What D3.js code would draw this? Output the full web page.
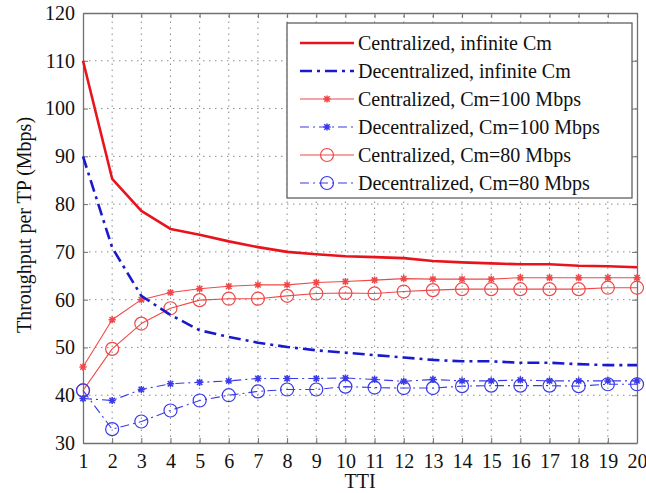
<!DOCTYPE html>
<html>
<head>
<meta charset="utf-8">
<script src="https://cdn.jsdelivr.net/npm/d3@7/dist/d3.min.js"></script>
<style>
  html, body { margin: 0; padding: 0; background: #fff; }
</style>
</head>
<body>
<svg id="chart" width="646" height="493"></svg>
<script>
// TTI index on the x axis
const tti = d3.range(1, 21);

// Throughput per TP (Mbps) for each scheme
const centralizedInf = [110, 85.3, 78.6, 74.8, 73.6, 72.2, 71.0, 70.0, 69.5, 69.1, 68.9, 68.7, 68.1, 67.8, 67.6, 67.4, 67.4, 67.1, 67.0, 66.8];
const decentralizedInf = [90, 70.9, 60.8, 56.8, 53.6, 52.2, 51.0, 50.1, 49.4, 48.9, 48.4, 47.9, 47.4, 47.1, 47.1, 46.8, 46.8, 46.5, 46.3, 46.3];
const centralized100 = [45.9, 55.8, 60.0, 61.5, 62.3, 62.8, 63.1, 63.1, 63.6, 63.8, 64.1, 64.4, 64.3, 64.3, 64.3, 64.6, 64.6, 64.6, 64.6, 64.6];
const decentralized100 = [39.3, 38.9, 41.2, 42.4, 42.7, 43.0, 43.5, 43.5, 43.5, 43.6, 43.3, 42.9, 43.3, 43.0, 43.0, 43.2, 43.0, 43.0, 43.0, 43.0];
const centralized80 = [41.0, 49.7, 55.0, 58.2, 59.9, 60.2, 60.2, 60.8, 61.3, 61.4, 61.3, 61.7, 62.0, 62.2, 62.2, 62.2, 62.2, 62.2, 62.5, 62.5];
const decentralized80 = [41.0, 32.9, 34.5, 36.8, 38.9, 40.0, 40.8, 41.2, 41.2, 41.8, 41.6, 41.5, 41.5, 41.9, 42.0, 42.0, 42.0, 41.9, 42.3, 42.3];

// Axis ticks
const xTicks = d3.range(1, 21);
const yTicks = d3.range(30, 121, 10);

const seriesNames = [
  "Centralized, infinite Cm",
  "Decentralized, infinite Cm",
  "Centralized, Cm=100 Mbps",
  "Decentralized, Cm=100 Mbps",
  "Centralized, Cm=80 Mbps",
  "Decentralized, Cm=80 Mbps"
];

const series = [
  { name: seriesNames[0], values: centralizedInf, color: "#e8141c", width: 2.6, dash: null, marker: null },
  { name: seriesNames[1], values: decentralizedInf, color: "#1a1acc", width: 2.6, dash: "12,5,3,5", marker: null },
  { name: seriesNames[2], values: centralized100, color: "#f04848", width: 1.1, dash: null, marker: "star" },
  { name: seriesNames[3], values: decentralized100, color: "#3a3ae8", width: 1.1, dash: "9,4,2,4", marker: "star" },
  { name: seriesNames[4], values: centralized80, color: "#f04848", width: 1.1, dash: null, marker: "circle" },
  { name: seriesNames[5], values: decentralized80, color: "#3a3ae8", width: 1.1, dash: "9,4,2,4", marker: "circle" }
];

const FONT = "'Liberation Serif'";
const margin = { left: 83, right: 9, top: 13, bottom: 50 };
const W = 646, H = 493;
const svg = d3.select("#chart");

const x = d3.scaleLinear().domain([1, 20]).range([margin.left, W - margin.right]);
const y = d3.scaleLinear().domain([30, 120]).range([H - margin.bottom, margin.top]);

const x0 = x.range()[0], x1 = x.range()[1];
const y0 = y.range()[0], y1 = y.range()[1];

// Dotted grid
const grid = svg.append("g").attr("stroke", "#8a8a8a").attr("stroke-width", 1).attr("stroke-dasharray", "1.5,4.5");
grid.selectAll(".gx").data(xTicks.slice(1, -1)).join("line")
  .attr("x1", d => x(d)).attr("x2", d => x(d)).attr("y1", y0).attr("y2", y1);
grid.selectAll(".gy").data(yTicks.slice(1, -1)).join("line")
  .attr("x1", x0).attr("x2", x1).attr("y1", d => y(d)).attr("y2", d => y(d));

// Axes with inward ticks on all four sides
const tickLen = 5;
const axisColor = "#707070";
const axBottom = svg.append("g").attr("transform", `translate(0,${y0})`)
  .call(d3.axisBottom(x).tickValues(xTicks).tickSizeInner(-tickLen).tickSizeOuter(0).tickPadding(11).tickFormat(d3.format("d")));
const axTop = svg.append("g").attr("transform", `translate(0,${y1})`)
  .call(d3.axisTop(x).tickValues(xTicks).tickSizeInner(-tickLen).tickSizeOuter(0).tickFormat(""));
const axLeft = svg.append("g").attr("transform", `translate(${x0},0)`)
  .call(d3.axisLeft(y).tickValues(yTicks).tickSizeInner(-tickLen).tickSizeOuter(0).tickPadding(8).tickFormat(d3.format("d")));
const axRight = svg.append("g").attr("transform", `translate(${x1},0)`)
  .call(d3.axisRight(y).tickValues(yTicks).tickSizeInner(-tickLen).tickSizeOuter(0).tickFormat(""));

[axBottom, axTop, axLeft, axRight].forEach(g => {
  g.attr("font-family", null);
  g.select(".domain").attr("stroke", axisColor).attr("stroke-width", 1.3);
  g.selectAll(".tick line").attr("stroke", axisColor);
  g.selectAll("text").style("font-family", FONT).style("font-size", "20px").attr("fill", "#111");
});

// Axis titles
svg.append("text").attr("x", (x0 + x1) / 2).attr("y", 488)
  .attr("text-anchor", "middle").attr("fill", "#111")
  .style("font-family", FONT).style("font-size", "20px").text("TTI");
svg.append("text").attr("transform", `translate(31,${(y0 + y1) / 2 - 3}) rotate(-90)`)
  .attr("text-anchor", "middle").attr("fill", "#111")
  .style("font-family", FONT).style("font-size", "20px").text("Throughput per TP (Mbps)");

// Marker drawing helpers
function drawMarker(g, kind, cx, cy, color, scale) {
  if (kind === "circle") {
    g.append("circle").attr("cx", cx).attr("cy", cy).attr("r", 6.5 * scale)
      .attr("fill", "none").attr("stroke", color).attr("stroke-width", 1.2);
  } else if (kind === "star") {
    const r = 3.6 * scale;
    const p = d3.path();
    p.moveTo(cx - r, cy); p.lineTo(cx + r, cy);
    p.moveTo(cx, cy - r); p.lineTo(cx, cy + r);
    const d = r * 0.75;
    p.moveTo(cx - d, cy - d); p.lineTo(cx + d, cy + d);
    p.moveTo(cx - d, cy + d); p.lineTo(cx + d, cy - d);
    g.append("path").attr("d", p.toString()).attr("stroke", color).attr("stroke-width", 1.5).attr("fill", "none");
  }
}

const line = d3.line().x((d, i) => x(tti[i])).y(d => y(d));

// Draw thin series first, thick ones on top
const order = [2, 3, 4, 5, 1, 0];
order.forEach(k => {
  const s = series[k];
  const g = svg.append("g");
  g.append("path").datum(s.values).attr("d", line)
    .attr("fill", "none").attr("stroke", s.color).attr("stroke-width", s.width)
    .attr("stroke-dasharray", s.dash).attr("stroke-linejoin", "round");
  if (s.marker) {
    s.values.forEach((v, i) => drawMarker(g, s.marker, x(tti[i]), y(v), s.color, 1));
  }
});

// Legend
const lg = svg.append("g");
const lx = 287, ly = 23, lw = 345, lh = 175;
lg.append("rect").attr("x", lx).attr("y", ly).attr("width", lw).attr("height", lh)
  .attr("fill", "#fff").attr("stroke", "#606060").attr("stroke-width", 1.3);
series.forEach((s, i) => {
  const yy = ly + 20 + i * 28;
  lg.append("line").attr("x1", 300).attr("x2", 354).attr("y1", yy).attr("y2", yy)
    .attr("stroke", s.color).attr("stroke-width", s.width).attr("stroke-dasharray", s.dash);
  if (s.marker) drawMarker(lg, s.marker, 327, yy, s.color, 1);
  lg.append("text").attr("x", 358).attr("y", yy).attr("dy", "0.33em").attr("fill", "#111")
    .style("font-family", FONT).style("font-size", "20px").text(s.name);
});
</script>
</body>
</html>
